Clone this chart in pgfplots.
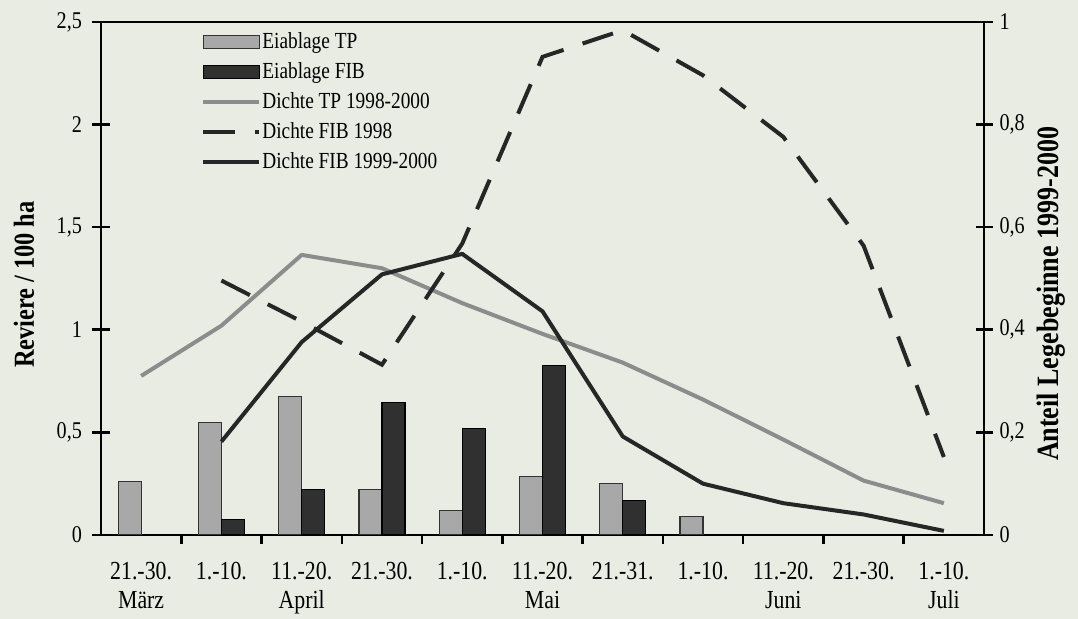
\documentclass[border=0pt]{standalone}
\usepackage{fontspec}
\setmainfont{Liberation Serif}[FakeStretch=0.84]
\usepackage{pgfplots}
\pgfplotsset{compat=1.18}
\definecolor{paper}{RGB}{233,236,227}
\definecolor{tpbar}{RGB}{168,168,168}
\definecolor{fibbar}{RGB}{48,48,48}
\definecolor{tpline}{RGB}{140,140,140}
\definecolor{fibline}{RGB}{38,38,38}
\pgfplotsset{
  base/.style={
    scale only axis, width=441.5pt, height=256.5pt,
    at={(0pt,0pt)}, anchor=south west,
    xmin=-0.5, xmax=10.5,
    axis line style={line width=1.3pt, black},
    tick style={line width=1.3pt, black},
    /pgf/number format/use comma,
    /pgf/number format/assume math mode=true,
  },
  barleg/.style={legend image code/.code={\draw[##1] (0pt,-3.2pt) rectangle (28pt,3.2pt);}},
  lineleg/.style={legend image code/.code={\draw[##1] (0pt,0pt) -- (28pt,0pt);}},
}
\begin{document}
\begin{tikzpicture}
\fill[paper] (-50.5pt,-42pt) rectangle (488.5pt,267.5pt);
\path[use as bounding box] (-50.5pt,-42pt) rectangle (488.5pt,267.5pt);

% x tick marks at the category boundaries
\begin{axis}[base, ymin=0, ymax=2.5, axis x line*=bottom, axis y line=none,
  xtick={0.5,1.5,2.5,3.5,4.5,5.5,6.5,7.5,8.5,9.5}, xticklabels={},
  tick align=outside, major tick length=4.5pt]
\end{axis}

% right axis
\begin{axis}[base, ymin=0, ymax=1, axis y line*=right, axis x line=none,
  ytick={0,0.2,0.4,0.6,0.8,1}, tick align=center, major tick length=8.5pt,
  yticklabel style={font=\fontsize{12}{14}\selectfont},
  ylabel={Anteil Legebeginne 1999-2000},
  ylabel style={at={(axis description cs:1.0759,0.47)}, anchor=center,
    font=\bfseries\fontsize{15.5}{18}\selectfont}]
\end{axis}

% main axis
\begin{axis}[base, ymin=0, ymax=2.5,
  ytick={0,0.5,1,1.5,2,2.5}, ytick pos=left, xtick pos=bottom,
  tick align=center, major tick length=9pt,
  yticklabel style={font=\fontsize{12}{14}\selectfont, xshift=-1.5pt},
  xtick={0,1,2,3,4,5,6,7,8,9,10}, xtick style={draw=none},
  xticklabels={{21.-30.\\März},{1.-10.},{11.-20.\\April},{21.-30.},{1.-10.},{11.-20.\\Mai},{21.-31.},{1.-10.},{11.-20.\\Juni},{21.-30.},{1.-10.\\Juli}},
  xticklabel style={align=center, font=\fontsize{13}{14.5}\selectfont, yshift=-5.5pt},
  ylabel={Reviere / 100 ha},
  ylabel style={at={(axis description cs:-0.0872,0.488)}, anchor=center,
    font=\bfseries\fontsize{14.5}{17}\selectfont},
  legend cell align=left,
  legend style={at={(axis description cs:0.1132,0.985)}, anchor=north west,
    draw=none, fill=none, inner sep=0pt, row sep=3pt,
    font=\fontsize{11.5}{13}\selectfont,
    nodes={inner sep=0.5pt, text height=8.5pt, text depth=2.5pt}},
]
\addplot[ybar, bar width=11.5pt, bar shift=-5.75pt, fill=tpbar, draw=black!80, line width=0.6pt, barleg]
  coordinates {(0,0.26) (1,0.55) (2,0.675) (3,0.22) (4,0.12) (5,0.285) (6,0.25) (7,0.09)};
\addlegendentry{Eiablage TP}
\addplot[ybar, bar width=11.5pt, bar shift=5.75pt, fill=fibbar, draw=black, line width=0.6pt, barleg]
  coordinates {(1,0.074) (2,0.22) (3,0.645) (4,0.52) (5,0.825) (6,0.17)};
\addlegendentry{Eiablage FIB}
\addplot[tpline, line width=2pt, sharp plot, line join=round, lineleg]
  coordinates {(0,0.775) (1,1.02) (2,1.365) (3,1.30) (4,1.13) (5,0.98) (6,0.84) (7,0.66) (8,0.465) (9,0.265) (10,0.155)};
\addlegendentry{Dichte TP 1998-2000}
\addplot[fibline, line width=2pt, sharp plot, dash pattern=on 16pt off 10pt, lineleg]
  coordinates {(1,1.24) (2,1.04) (3,0.83) (4,1.42) (5,2.33) (6,2.46) (7,2.24) (8,1.94) (9,1.41) (10,0.38)};
\addlegendentry{Dichte FIB 1998}
\addplot[fibline, line width=2pt, sharp plot, line join=round, lineleg]
  coordinates {(1,0.455) (2,0.94) (3,1.27) (4,1.37) (5,1.09) (6,0.48) (7,0.25) (8,0.155) (9,0.10) (10,0.02)};
\addlegendentry{Dichte FIB 1999-2000}
\end{axis}
\end{tikzpicture}
\end{document}
